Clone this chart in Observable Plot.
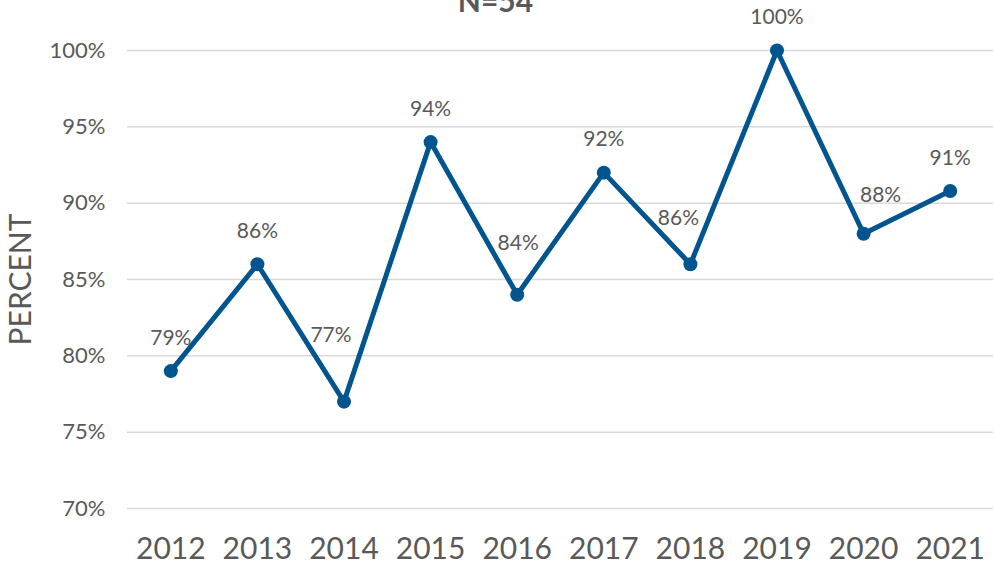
<!DOCTYPE html>
<html><head><meta charset="utf-8">
<script src="https://cdn.jsdelivr.net/npm/d3@7"></script>
<script src="https://cdn.jsdelivr.net/npm/@observablehq/plot@0.6"></script>
<style>body{margin:0;background:#fff;overflow:hidden}</style>
</head><body><div id="chart"></div>
<script>
const years = ["2012","2013","2014","2015","2016","2017","2018","2019","2020","2021"];
const values = [79, 86, 77, 94, 84, 92, 86, 100, 88, 90.8];
const labels = ["79%","86%","77%","94%","84%","92%","86%","100%","88%","91%"];
const yTicks = [70, 75, 80, 85, 90, 95, 100];
const title = "N=54";
const yLabel = "PERCENT";

// label placement nudges (pixels), as hand-placed in the original
const nudge = {"2014": [-13, -66], "2016": [1, -52], "2018": [-12, -46], "2020": [17, -38]};

const data = years.map((y, i) => ({year: y, value: values[i], label: labels[i]}));
const font = "Lato, 'Open Sans', sans-serif";
const grey = "#595959";
const blue = "#00558F";

const labelMarks = data.map(d => {
  const [dx, dy] = nudge[d.year] || [0, -33];
  return Plot.text([d], {x: "year", y: "value", text: "label", dx, dy, fontSize: 21, fill: grey});
});

const chart = Plot.plot({
  width: 994, height: 566,
  marginLeft: 127, marginRight: 1, marginTop: 50, marginBottom: 58,
  style: {fontFamily: font, color: grey, background: "#fff", overflow: "visible"},
  x: {type: "point", domain: years, padding: 0.5, round: false, label: null},
  y: {domain: [70, 100], label: null},
  marks: [
    Plot.gridY(yTicks, {stroke: "#d9d9d9", strokeOpacity: 1, strokeWidth: 1.5}),
    Plot.axisY(yTicks, {tickSize: 0, tickPadding: 22, fontSize: 22, fill: grey, tickFormat: d => d + "%", label: null}),
    Plot.axisX({tickSize: 0, tickPadding: 29, fontSize: 30, fill: grey, label: null}),
    Plot.text([yLabel], {frameAnchor: "left", textAnchor: "middle", rotate: -90, dx: -106, fontSize: 30, fill: grey}),
    Plot.text([title], {frameAnchor: "top", lineAnchor: "bottom", dy: -39, dx: -65, fontSize: 30, fontWeight: "bold", fill: grey}),
    Plot.line(data, {x: "year", y: "value", stroke: blue, strokeWidth: 5, strokeLinejoin: "round"}),
    Plot.dot(data, {x: "year", y: "value", fill: blue, r: 7}),
    ...labelMarks
  ]
});
document.getElementById("chart").append(chart);
</script></body></html>
